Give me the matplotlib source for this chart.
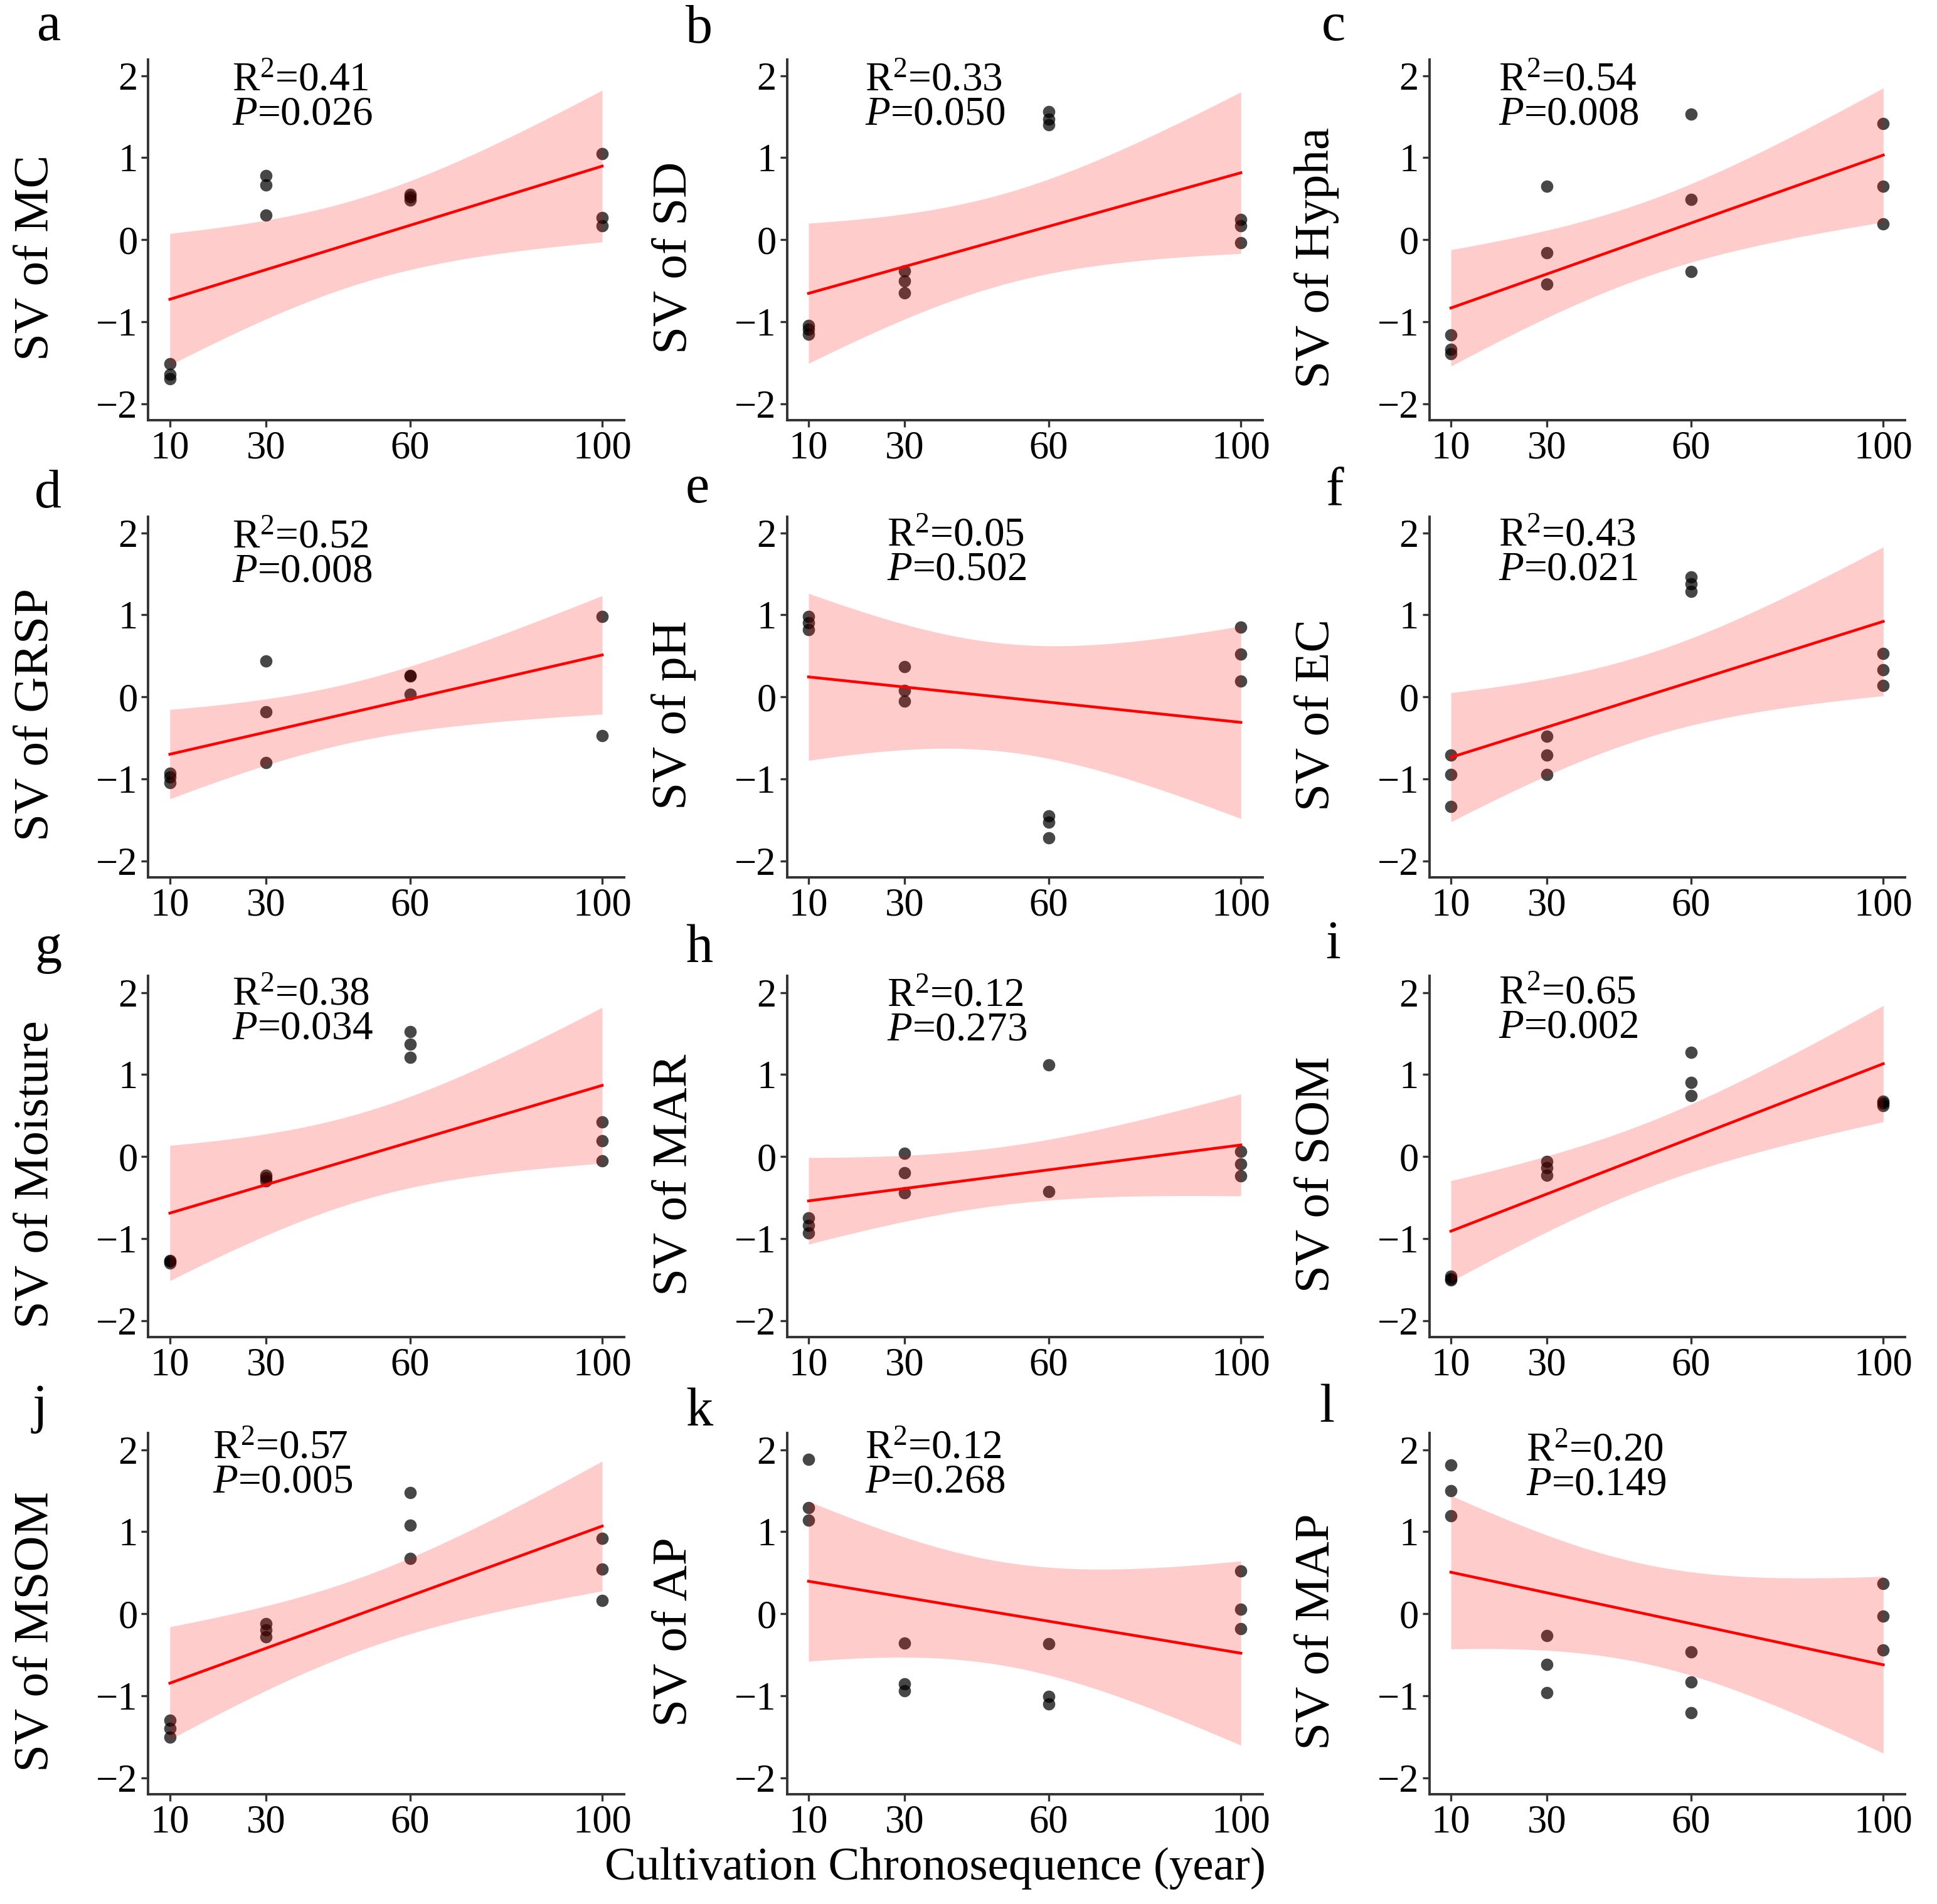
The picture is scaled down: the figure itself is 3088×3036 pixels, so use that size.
import numpy as np
import matplotlib
matplotlib.use("Agg")
import matplotlib.pyplot as plt

plt.rcParams['font.family'] = ['Liberation Serif', 'DejaVu Serif']
plt.rcParams['mathtext.fontset'] = 'custom'
plt.rcParams['mathtext.rm'] = 'Liberation Serif'
plt.rcParams['mathtext.it'] = 'Liberation Serif:italic'
plt.rcParams['axes.unicode_minus'] = True

# ---------------- data ----------------
panel_letters = ['a', 'b', 'c', 'd', 'e', 'f', 'g', 'h', 'i', 'j', 'k', 'l']
variables = ['MC', 'SD', 'Hypha', 'GRSP', 'pH', 'EC', 'Moisture', 'MAR', 'SOM', 'MSOM', 'AP', 'MAP']
r2_labels = ['0.41', '0.33', '0.54', '0.52', '0.05', '0.43', '0.38', '0.12', '0.65', '0.57', '0.12', '0.20']
p_labels = ['0.026', '0.050', '0.008', '0.008', '0.502', '0.021', '0.034', '0.273', '0.002', '0.005', '0.268', '0.149']

x_full = [10, 10, 10, 30, 30, 30, 60, 60, 60, 100, 100, 100]
x_grsp = [10, 10, 10, 30, 30, 30, 60, 60, 60, 100, 100]
x_mar = [10, 10, 10, 30, 30, 30, 60, 60, 100, 100, 100]

y_mc = [-1.51, -1.64, -1.70, 0.78, 0.67, 0.30, 0.55, 0.52, 0.48, 1.05, 0.27, 0.17]
y_sd = [-1.05, -1.09, -1.15, -0.38, -0.50, -0.65, 1.56, 1.47, 1.40, 0.25, 0.17, -0.04]
y_hypha = [-1.16, -1.34, -1.39, 0.65, -0.16, -0.54, 1.53, 0.49, -0.39, 1.42, 0.65, 0.19]
y_grsp = [-0.93, -0.98, -1.05, 0.44, -0.18, -0.80, 0.26, 0.25, 0.03, 0.98, -0.47]
y_ph = [0.98, 0.90, 0.82, 0.37, 0.08, -0.05, -1.45, -1.53, -1.72, 0.85, 0.52, 0.19]
y_ec = [-0.71, -0.95, -1.34, -0.48, -0.71, -0.95, 1.46, 1.38, 1.29, 0.53, 0.33, 0.14]
y_moist = [-1.27, -1.28, -1.30, -0.23, -0.26, -0.30, 1.52, 1.37, 1.21, 0.42, 0.19, -0.05]
y_mar = [-0.75, -0.84, -0.93, 0.04, -0.20, -0.44, 1.12, -0.43, 0.06, -0.09, -0.24]
y_som = [-1.46, -1.49, -1.51, -0.06, -0.14, -0.23, 1.27, 0.90, 0.74, 0.67, 0.65, 0.62]
y_msom = [-1.30, -1.40, -1.51, -0.12, -0.20, -0.28, 1.48, 1.08, 0.67, 0.92, 0.54, 0.16]
y_ap = [1.88, 1.29, 1.14, -0.36, -0.86, -0.94, -0.37, -1.01, -1.10, 0.52, 0.05, -0.18]
y_map = [1.81, 1.50, 1.19, -0.27, -0.62, -0.96, -0.47, -0.83, -1.21, 0.37, -0.03, -0.44]

x_sets = [x_full, x_full, x_full, x_grsp, x_full, x_full, x_full, x_mar, x_full, x_full, x_full, x_full]
y_sets = [y_mc, y_sd, y_hypha, y_grsp, y_ph, y_ec, y_moist, y_mar, y_som, y_msom, y_ap, y_map]

x_ticks = [10, 30, 60, 100]
y_ticks = [-2, -1, 0, 1, 2]

# two-sided 95% t critical values by residual degrees of freedom
T_CRIT = {9: 2.262157, 10: 2.228139}

# ---------------- layout ----------------
W, H = 1568.0, 1541.0  # reference thumbnail scale
col_left = [120, 637, 1157]
ax_w = 385
row_top = [48, 418, 790, 1160]
ax_h = 292
letter_pos = [(30, 22), (555, 24), (1070, 22),
              (28, 400), (555, 396), (1073, 398),
              (28, 768), (555, 768), (1073, 765),
              (26, 1140), (555, 1143), (1068, 1140)]
ann_x = [23, 21.7, 19.9, 23, 26.3, 19.9, 23, 26.3, 19.9, 18.9, 21.7, 25.6]
ann_dy = [0.942, 0.942, 0.942, 0.942, 0.948, 0.948, 0.949, 0.945, 0.952, 0.959, 0.959, 0.952]

fig = plt.figure(figsize=(15.44, 15.18), dpi=200)

for i in range(12):
    r, c = divmod(i, 3)
    left = col_left[c] / W
    bottom = 1 - (row_top[r] + ax_h) / H
    ax = fig.add_axes([left, bottom, ax_w / W, ax_h / H])

    x = np.array(x_sets[i], dtype=float)
    y = np.array(y_sets[i], dtype=float)
    n = len(x)
    b, a = np.polyfit(x, y, 1)
    resid = y - (a + b * x)
    s = np.sqrt(np.sum(resid ** 2) / (n - 2))
    xm = x.mean()
    sxx = np.sum((x - xm) ** 2)
    xg = np.linspace(x.min(), x.max(), 80)
    yg = a + b * xg
    se = s * np.sqrt(1.0 / n + (xg - xm) ** 2 / sxx)
    t = T_CRIT[n - 2]

    ax.scatter(x, y, s=50, color='black', alpha=0.72, linewidths=0, zorder=2)
    ax.fill_between(xg, yg - t * se, yg + t * se, color='red', alpha=0.2,
                    linewidth=0, zorder=3)
    ax.plot(xg, yg, color='red', lw=1.6, zorder=4)

    ax.set_xlim(5.5, 104.5)
    ax.set_ylim(-2.2, 2.2)
    ax.set_xticks(x_ticks)
    ax.set_yticks(y_ticks)
    ax.tick_params(axis='both', labelsize=22.5, length=4, width=1.2,
                   color='#333333', pad=2, labelcolor='black')
    for sp in ['top', 'right']:
        ax.spines[sp].set_visible(False)
    for sp in ['left', 'bottom']:
        ax.spines[sp].set_linewidth(1.4)
        ax.spines[sp].set_color('#333333')

    ax.set_ylabel('SV of ' + variables[i], fontsize=28.5)
    ax.yaxis.set_label_coords(-0.19, 0.45)

    ax.text(ann_x[i], 2.2 - 4.4 * (1 - ann_dy[i]), 'R$^{2}$=' + r2_labels[i],
            fontsize=23.5, ha='left', va='center', transform=ax.transData)
    ax.text(ann_x[i], 2.2 - 4.4 * (1 - ann_dy[i]) - 0.42, '$\\mathit{P}$=' + p_labels[i],
            fontsize=23.5, ha='left', va='center', transform=ax.transData)

    lx, ly = letter_pos[i]
    fig.text(lx / W, 1 - ly / H, panel_letters[i], fontsize=31, ha='left', va='center')

fig.text(757 / W, 1 - 1512 / H, 'Cultivation Chronosequence (year)', fontsize=27,
         ha='center', va='center')

fig.savefig('out.png', dpi=200)
